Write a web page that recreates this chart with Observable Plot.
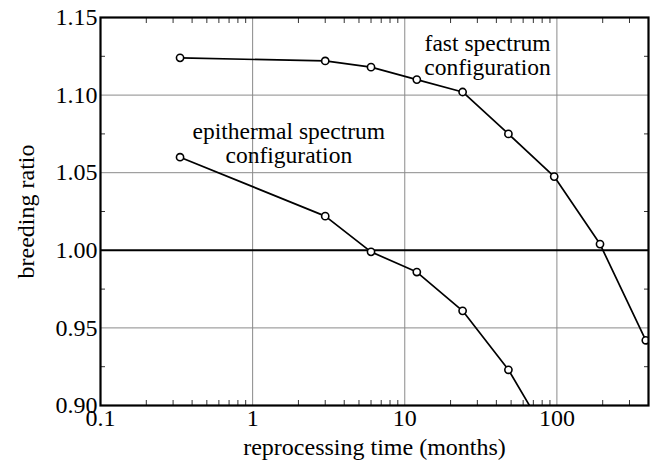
<!DOCTYPE html>
<html>
<head>
<meta charset="utf-8">
<script src="https://cdn.jsdelivr.net/npm/d3@7"></script>
<script src="https://cdn.jsdelivr.net/npm/@observablehq/plot@0.6"></script>
<style>
  html, body { margin: 0; padding: 0; background: #fff; }
  #chart { width: 651px; height: 460px; }
</style>
</head>
<body>
<div id="chart"></div>
<script>
// reprocessing time (months)
const months = [1/3, 3, 6, 12, 24, 48, 96, 192, 384];
// breeding ratio, fast spectrum configuration
const fastRatio = [1.124, 1.122, 1.118, 1.110, 1.102, 1.075, 1.0475, 1.004, 0.942];
// epithermal spectrum configuration (last point falls below the axis and is clipped)
const epiMonths = [1/3, 3, 6, 12, 24, 48, 96];
const epiRatio = [1.060, 1.022, 0.999, 0.986, 0.961, 0.923, 0.873];

const xMajor = [0.1, 1, 10, 100];
const xMinor = [0.2,0.3,0.4,0.5,0.6,0.7,0.8,0.9, 2,3,4,5,6,7,8,9, 20,30,40,50,60,70,80,90, 200,300,400];
const yMajor = [0.90, 0.95, 1.00, 1.05, 1.10, 1.15];
const yMinor = [0.925, 0.975, 1.025, 1.075, 1.125];

const fast = months.map((m, i) => ({m, r: fastRatio[i]}));
const epi = epiMonths.map((m, i) => ({m, r: epiRatio[i]}));

const font = "Liberation Serif, Times New Roman, serif";

const chart = Plot.plot({
  width: 651,
  height: 460,
  marginLeft: 100,
  marginRight: 3,
  marginTop: 17,
  marginBottom: 55,
  style: {fontFamily: font, fontSize: "24px", color: "black", background: "white"},
  x: {type: "log", domain: [0.1, 400]},
  y: {domain: [0.90, 1.15]},
  marks: [
    Plot.gridX(xMajor, {stroke: "#8a8a8a", strokeOpacity: 1, strokeWidth: 1}),
    Plot.gridY([0.95, 1.05, 1.10], {stroke: "#8a8a8a", strokeOpacity: 1, strokeWidth: 1}),
    Plot.ruleY([1.00], {stroke: "black", strokeWidth: 2}),
    // minor inward ticks
    Plot.axisX(xMinor, {anchor: "bottom", tickSize: -5, tickFormat: () => "", label: null, stroke: "#333"}),
    Plot.axisX(xMinor, {anchor: "top", tickSize: -5, tickFormat: () => "", label: null, stroke: "#333"}),
    Plot.axisY(yMinor, {anchor: "left", tickSize: -5, tickFormat: () => "", label: null, stroke: "#333"}),
    Plot.axisY(yMinor, {anchor: "right", tickSize: -5, tickFormat: () => "", label: null, stroke: "#333"}),
    // labelled axes
    Plot.axisX(xMajor, {anchor: "bottom", tickSize: 0, tickPadding: 3, tickFormat: d => String(d),
      label: "reprocessing time (months)", labelAnchor: "center", labelArrow: "none", labelOffset: 49, fontSize: 24}),
    Plot.axisY(yMajor, {anchor: "left", tickSize: 0, tickPadding: 3, tickFormat: d => d.toFixed(2),
      label: "breeding ratio", labelAnchor: "center", labelArrow: "none", labelOffset: 84, fontSize: 24}),
    Plot.line(fast, {x: "m", y: "r", stroke: "black", strokeWidth: 1.7, clip: true}),
    Plot.line(epi, {x: "m", y: "r", stroke: "black", strokeWidth: 1.7, clip: true}),
    Plot.dot(fast, {x: "m", y: "r", r: 3.6, stroke: "black", strokeWidth: 1.6, fill: "white", clip: true}),
    Plot.dot(epi, {x: "m", y: "r", r: 3.6, stroke: "black", strokeWidth: 1.6, fill: "white", clip: true}),
    Plot.text(["fast spectrum\nconfiguration"], {x: 35, y: 1.1255, text: d => d, fontSize: 23.5, lineHeight: 1.03, fill: "black"}),
    Plot.text(["epithermal spectrum\nconfiguration"], {x: 1.73, y: 1.069, text: d => d, fontSize: 23.5, lineHeight: 1.03, fill: "black"}),
    Plot.frame({stroke: "black", strokeWidth: 2.2})
  ]
});
document.getElementById("chart").appendChild(chart);
</script>
</body>
</html>
